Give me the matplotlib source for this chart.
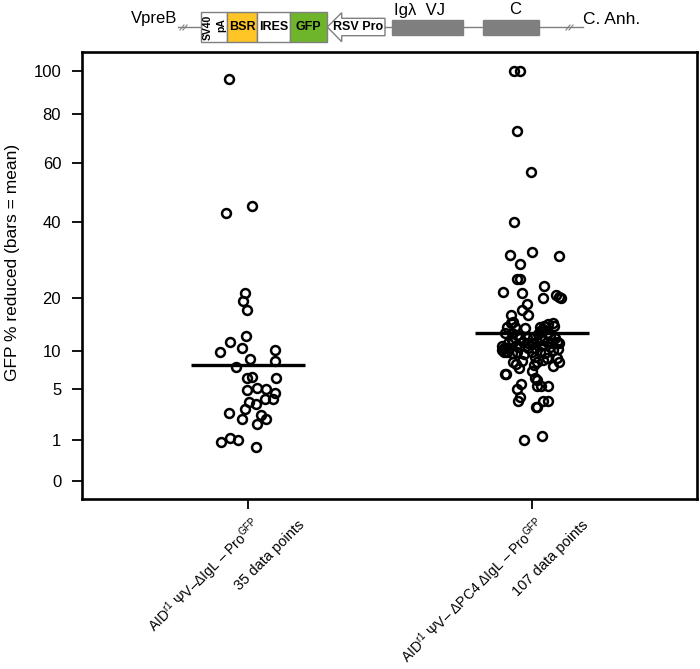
import numpy as np
import matplotlib
matplotlib.use('Agg')
import matplotlib.pyplot as plt
from matplotlib.patches import Rectangle, Polygon
from matplotlib.transforms import ScaledTranslation

plt.rcParams['font.family'] = ['Liberation Sans', 'DejaVu Sans']
plt.rcParams['mathtext.fontset'] = 'custom'
plt.rcParams['mathtext.rm'] = 'Liberation Sans'
plt.rcParams['mathtext.it'] = 'Liberation Sans:italic'

# ---- data ----
group_pos = [1, 2]
group_labels = [r'AID$^{\mathrm{r1}}$ ΨV–ΔIgL – Pro$^{\mathrm{GFP}}$',
                r'AID$^{\mathrm{r1}}$ ΨV– ΔPC4 ΔIgL – Pro$^{\mathrm{GFP}}$']
group_counts = ['35 data points', '107 data points']
group_means = [8.0, 13.0]

left_values = [96, 42.8, 45, 21.1, 19.2, 17.5, 12.6, 11.5, 9.95, 10.5, 10.3, 8.9,
               8.6, 7.7, 6.35, 6.47, 6.27, 4.93, 5.2, 5.1, 4.58, 3.97, 4.03, 3.74,
               3.54, 3.06, 2.73, 2.31, 2.57, 2.31, 1.91, 0.9, 1.12, 1.0, 0.7]
left_jitter = [-0.066, -0.077, 0.014, -0.011, -0.017, -0.005, -0.008, -0.063, -0.098,
               -0.022, 0.096, 0.006, 0.096, -0.042, -0.005, 0.014, 0.098, -0.004,
               0.032, 0.062, 0.096, 0.061, 0.087, 0.004, 0.027, -0.011, -0.067,
               -0.022, 0.046, 0.062, 0.033, -0.096, -0.062, -0.035, 0.029]

right_values = [100, 100, 73, 56.8, 40, 30.5, 31.1, 30.1, 28, 24.3, 24.3, 22.7, 21.2,
                21.0, 20.0, 20.5, 20.2, 19.9, 18.6, 17.5, 16.5, 16.5, 15.1,
                14.05, 14.8, 14.17, 13.87, 14.17, 14.29, 14.66, 14.8, 14.29, 13.44, 13.69,
                12.97, 12.97, 12.68, 12.22, 12.11, 12.22, 12.85, 12.97, 12.68, 12.11, 11.83,
                10.84, 10.47, 11.28, 11.55, 11.0, 11.55, 11.28, 11.38, 11.55, 11.83, 11.55,
                11.28, 11.55, 11.28,
                10.21, 9.95, 9.70, 9.95, 9.60, 10.47, 10.47, 9.95, 9.80, 10.21, 10.32,
                8.47, 8.14, 7.55, 8.61, 9.19, 8.0, 8.47, 8.71, 8.95, 7.87, 8.47, 8.95,
                7.24, 6.27, 6.07,
                10.47, 9.95, 10.47, 10.73, 9.95, 11.0, 10.73,
                6.77, 6.77, 5.1, 5.6, 5.37, 5.37, 5.37, 3.8, 4.17, 3.28, 3.28, 3.8, 3.8,
                1.0, 1.2]
right_jitter = [-0.062, -0.042, -0.054, -0.005, -0.062, -0.077, 0.0, 0.096, -0.042,
                -0.054, -0.042, 0.042, -0.101, -0.035, 0.038, 0.085, 0.094, 0.101,
                -0.019, -0.035, -0.014, -0.074, -0.066,
                -0.089, -0.075, -0.060, -0.025, 0.028, 0.042, 0.057, 0.073, 0.077, 0.028, 0.040,
                -0.095, -0.072, -0.054, -0.042, -0.019, 0.005, 0.022, 0.052, 0.063, 0.081, -0.072,
                -0.107, -0.099, -0.083, -0.066, -0.054, -0.031, -0.013, -0.001, 0.016, 0.034,
                0.052, 0.069, 0.087, 0.096,
                -0.107, -0.089, -0.072, -0.054, -0.028, -0.013, 0.011, 0.028, 0.046, 0.075, 0.093,
                -0.066, -0.056, -0.047, -0.036, 0.011, 0.007, 0.019, 0.040, 0.052, 0.073,
                0.096, 0.087, -0.001, 0.011, 0.016,
                -0.095, -0.099, -0.080, -0.045, -0.001, 0.034, 0.063,
                -0.095, -0.092, -0.054, -0.039, 0.016, 0.033, 0.055, -0.050, -0.042,
                0.014, 0.019, 0.038, 0.055, -0.029, 0.034]

y_ticks = [0, 1, 5, 10, 20, 40, 60, 80, 100]


def fwd(v):
    v = np.asarray(v, dtype=float)
    return np.sign(v) * np.sqrt(np.abs(v))


def inv(s):
    s = np.asarray(s, dtype=float)
    return np.sign(s) * s ** 2


W, H = 700, 669
fig = plt.figure(figsize=(W / 100, H / 100), dpi=100)
ax = fig.add_axes([82 / W, 1 - 499 / H, 615 / W, 447 / H])
ax.set_yscale('function', functions=(fwd, inv))

mk = dict(marker='o', ms=6.4, mfc='none', mec='black', mew=1.8, ls='none')
ax.plot(np.array(left_jitter) + group_pos[0], left_values, **mk)
ax.plot(np.array(right_jitter) + group_pos[1], right_values, **mk)
for x, m in zip(group_pos, group_means):
    ax.plot([x - 0.2, x + 0.2], [m, m], color='black', lw=2.4, solid_capstyle='butt')

ax.set_xlim(0.4155, 2.581)
ax.set_ylim(-0.19, 109.5)
ax.set_yticks(y_ticks)
ax.set_yticklabels([str(t) for t in y_ticks], fontsize=12)
ax.set_xticks(group_pos)
ax.set_xticklabels(['', ''])
ax.tick_params(axis='both', direction='out', length=7.5, width=1.3)
ax.tick_params(axis='y', pad=7.5)
for s in ax.spines.values():
    s.set_linewidth(1.9)
ax.set_ylabel('GFP % reduced (bars = mean)', fontsize=12.5)
ax.yaxis.set_label_coords(-0.10, 0.53)

# rotated group labels under the ticks
tr = ax.get_xaxis_transform()
for x, lab, cnt in zip(group_pos, group_labels, group_counts):
    t1 = tr + ScaledTranslation(0.11, -0.23, fig.dpi_scale_trans)
    ax.text(x, 0, lab, transform=t1, rotation=45, rotation_mode='anchor',
            ha='right', va='center', fontsize=10)
    t2 = tr + ScaledTranslation(0.54, -0.24, fig.dpi_scale_trans)
    ax.text(x, 0, cnt, transform=t2, rotation=45, rotation_mode='anchor',
            ha='right', va='center', fontsize=10.5)

# ---- construct map above the plot ----
ad = fig.add_axes([0, 1 - 48 / H, 1, 48 / H])
ad.set_xlim(0, W)
ad.set_ylim(48, 0)
ad.axis('off')
gray = '#7f7f7f'

ad.text(177, 19, 'VpreB', ha='right', va='center', fontsize=12)
ad.plot([178, 201], [27, 27], color=gray, lw=1)
ad.plot([180, 184], [30, 25], color=gray, lw=0.8)
ad.plot([183, 187], [30, 25], color=gray, lw=0.8)

boxes = [(200.7, 26.6, 'white'), (227.3, 29.4, '#ffc425'),
         (256.7, 33.3, 'white'), (290.0, 36.7, '#6fb52c')]
for x0, w, c in boxes:
    ad.add_patch(Rectangle((x0, 12.3), w, 29.4, facecolor=c, edgecolor=gray, lw=1))
ad.text(207.5, 27, 'SV40', rotation=90, ha='center', va='center', fontsize=7.5,
        fontweight='bold')
ad.text(221, 25, 'pA', rotation=90, ha='center', va='center', fontsize=7.5,
        fontweight='bold')
ad.text(242, 27.5, 'BSR', ha='center', va='center', fontsize=9, fontweight='bold')
ad.text(273.3, 27.5, 'IRES', ha='center', va='center', fontsize=9, fontweight='bold')
ad.text(308.3, 27.5, 'GFP', ha='center', va='center', fontsize=9, fontweight='bold')

arrow = [(327.3, 27), (341.7, 12.7), (341.7, 18.3), (385, 18.3), (385, 35.7),
         (341.7, 35.7), (341.7, 41.7)]
ad.add_patch(Polygon(arrow, closed=True, facecolor='white', edgecolor=gray, lw=1))
ad.text(358, 27.5, 'RSV Pro', ha='center', va='center', fontsize=9, fontweight='bold')

ad.plot([385, 392], [27, 27], color=gray, lw=1)
ad.add_patch(Rectangle((391.7, 19.5), 71, 15, facecolor=gray, edgecolor=gray, lw=1))
ad.plot([462.7, 483.3], [27, 27], color=gray, lw=1)
ad.add_patch(Rectangle((483.3, 19.5), 56, 15, facecolor=gray, edgecolor=gray, lw=1))
ad.plot([539.3, 583], [27, 27], color=gray, lw=1)
ad.plot([566, 570], [30, 25], color=gray, lw=0.8)
ad.plot([569, 573], [30, 25], color=gray, lw=0.8)
ad.text(420, 10, 'Igλ  VJ', ha='center', va='center', fontsize=12)
ad.text(515, 10, 'C', ha='center', va='center', fontsize=12)
ad.text(583, 19, 'C. Anh.', ha='left', va='center', fontsize=12.5)

fig.savefig('out.png', dpi=100)
